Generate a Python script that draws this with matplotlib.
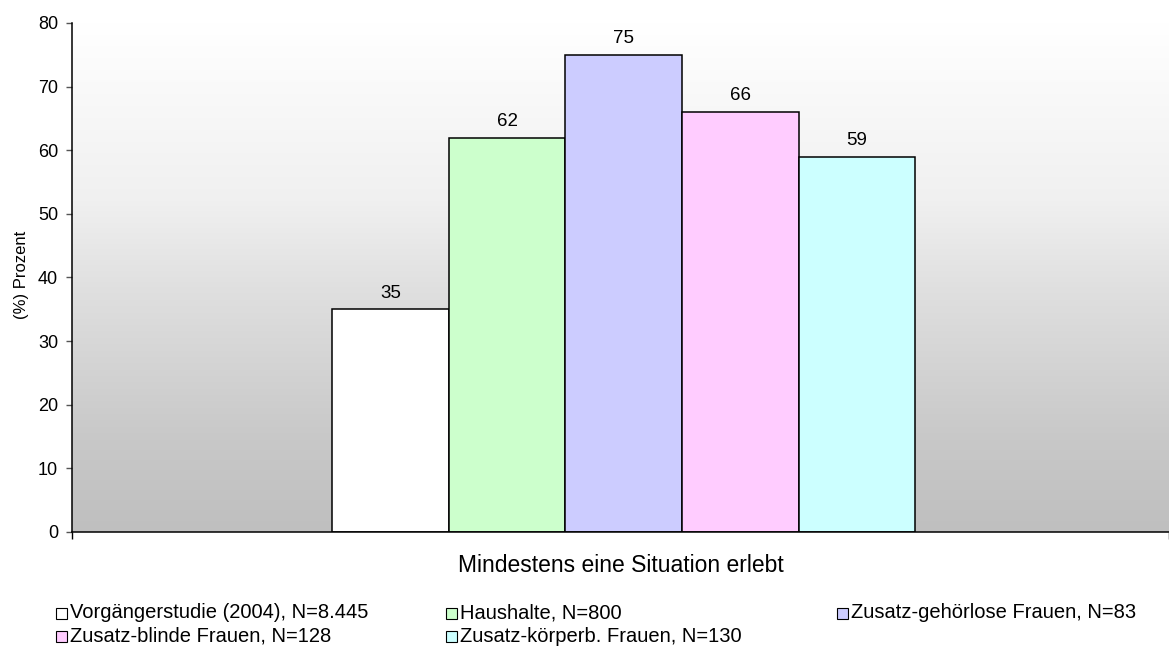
import numpy as np
import matplotlib
matplotlib.use("Agg")
import matplotlib.pyplot as plt
from matplotlib.colors import LinearSegmentedColormap
from matplotlib.patches import Rectangle

plt.rcParams['font.family'] = ['Liberation Sans', 'DejaVu Sans']

category = "Mindestens eine Situation erlebt"
series_labels = [
    "Vorgängerstudie (2004), N=8.445",
    "Haushalte, N=800",
    "Zusatz-gehörlose Frauen, N=83",
    "Zusatz-blinde Frauen, N=128",
    "Zusatz-körperb. Frauen, N=130",
]
values = [35, 62, 75, 66, 59]
colors = ["#FFFFFF", "#CCFFCC", "#CCCCFF", "#FFCCFF", "#CCFFFF"]
y_ticks = [0, 10, 20, 30, 40, 50, 60, 70, 80]


def main():
    W, H = 1169, 652
    fig = plt.figure(figsize=(W / 100, H / 100), dpi=100)
    ax = fig.add_axes([72 / W, 1 - 532 / H, 1 - 72 / W, (532 - 23) / H])

    # grey gradient background (white at top, grey at bottom)
    bg = LinearSegmentedColormap.from_list(
        "bg", [(0.0, "#ffffff"), (0.35, "#f0f0f0"), (0.52, "#e0e0e0"),
               (0.82, "#c8c8c8"), (1.0, "#bfbfbf")])
    grad = np.linspace(0, 1, 256).reshape(-1, 1)
    ax.imshow(grad, cmap=bg, aspect="auto", extent=[-0.5, 0.5, 0, 80],
              origin="upper", zorder=0)

    n = len(values)
    bw = 0.1063
    xs = [(i - (n - 1) / 2) * bw + 0.003 for i in range(n)]
    bars = ax.bar(xs, values, width=bw, color=colors, edgecolor="black",
                  linewidth=1.1, zorder=2)
    for b, v in zip(bars, values):
        ax.annotate(str(v), (b.get_x() + b.get_width() / 2, v),
                    xytext=(0, 8.5), textcoords="offset points",
                    ha="center", va="baseline", fontsize=13.5)

    ax.set_xlim(-0.5, 0.5)
    ax.set_ylim(0, 80)
    ax.set_yticks(y_ticks)
    ax.set_xticks([-0.5, 0.5])
    ax.set_xticklabels(["", ""])
    ax.tick_params(axis="y", direction="out", length=4, width=1, pad=6,
                   labelsize=13, color="#555555")
    ax.tick_params(axis="x", direction="out", length=5, width=1)
    for s in ["top", "right"]:
        ax.spines[s].set_visible(False)
    ax.spines["left"].set_linewidth(1.1)
    ax.spines["bottom"].set_linewidth(1.1)

    fig.text((72 + 1169) / 2 / W, 1 - 565 / H, category, ha="center",
             va="center", fontsize=16.5)
    fig.text(22 / W, 1 - 275 / H, "(%) Prozent", rotation=90,
             ha="center", va="center", fontsize=12)

    # legend, three columns
    col_x = [56, 446, 837]
    row_y = [613, 636]
    sq = 11
    for i, (lab, c) in enumerate(zip(series_labels, colors)):
        x = col_x[i % 3]
        y = row_y[i // 3]
        fig.add_artist(Rectangle((x / W, 1 - (y + sq / 2) / H), sq / W, sq / H,
                                 facecolor=c, edgecolor="black", linewidth=0.8,
                                 transform=fig.transFigure))
        fig.text((x + sq + 3) / W, 1 - y / H, lab, ha="left", va="center",
                 fontsize=14.5)

    fig.savefig("out.png", dpi=100)


if __name__ == "__main__":
    main()
